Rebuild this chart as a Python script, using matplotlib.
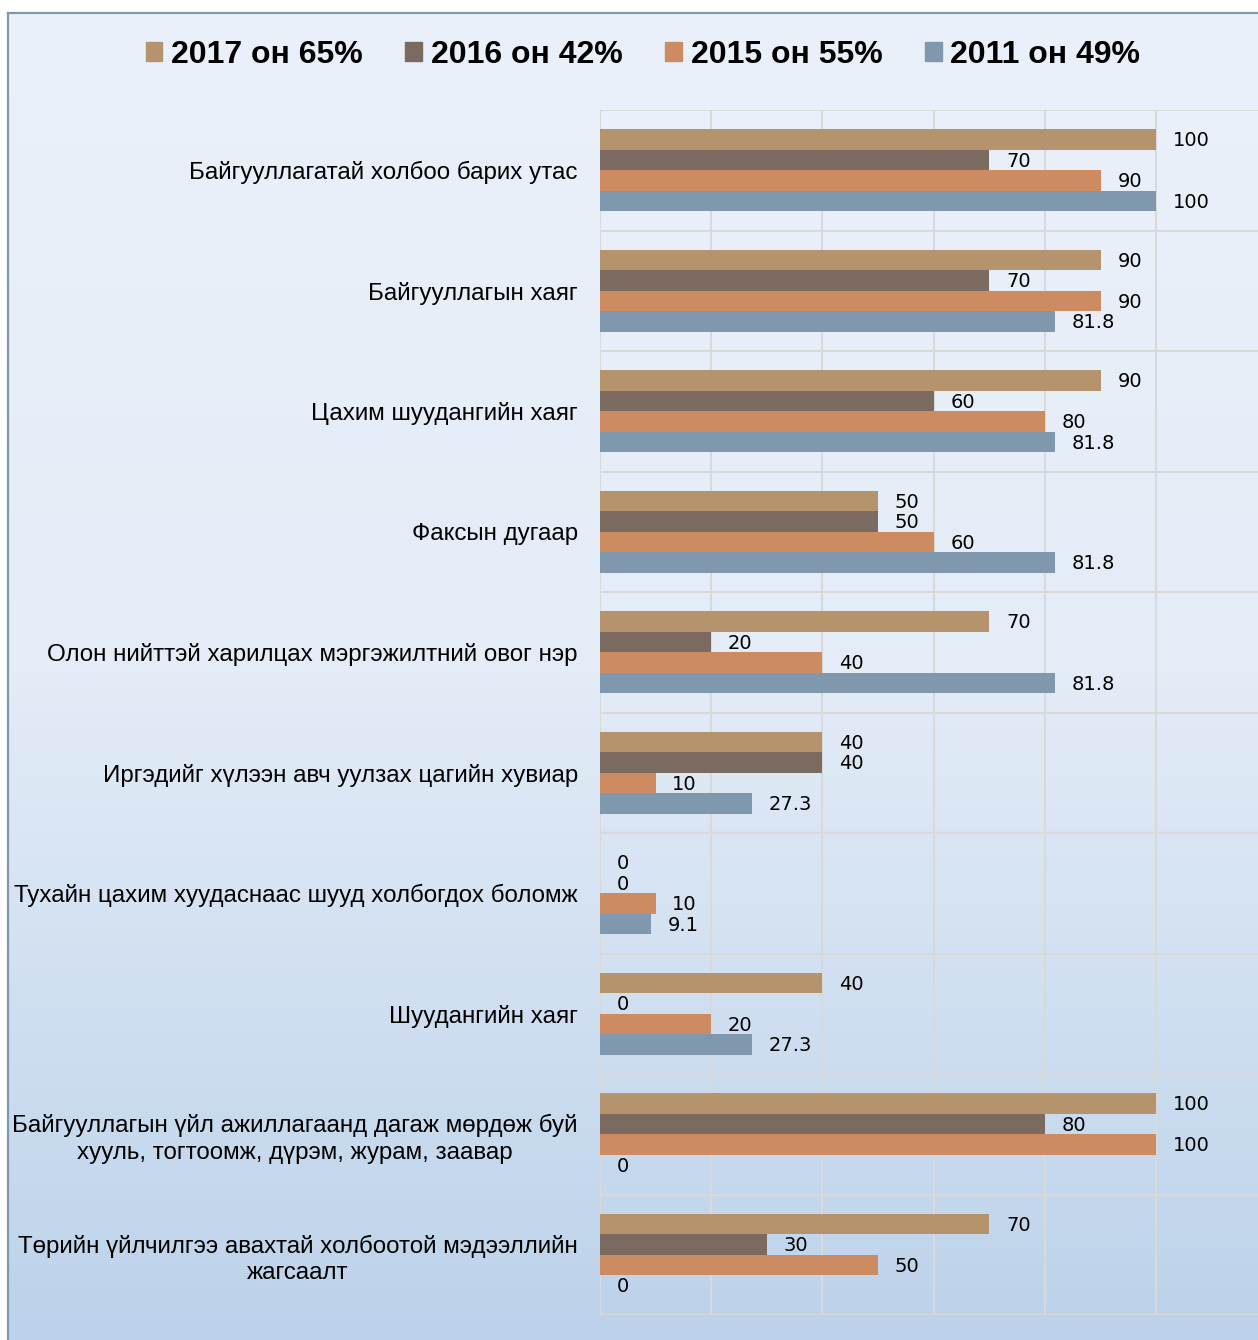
import numpy as np
import matplotlib
matplotlib.use("Agg")
import matplotlib.pyplot as plt
from matplotlib.patches import Patch
from matplotlib.colors import LinearSegmentedColormap
from matplotlib.lines import Line2D

categories = [
    "Байгууллагатай холбоо барих утас",
    "Байгууллагын хаяг",
    "Цахим шуудангийн хаяг",
    "Факсын дугаар",
    "Олон нийттэй харилцах мэргэжилтний овог нэр",
    "Иргэдийг хүлээн авч уулзах цагийн хувиар",
    "Тухайн цахим хуудаснаас шууд холбогдох боломж",
    "Шуудангийн хаяг",
    "Байгууллагын үйл ажиллагаанд дагаж мөрдөж буй\nхууль, тогтоомж, дүрэм, журам, заавар",
    "Төрийн үйлчилгээ авахтай холбоотой мэдээллийн\nжагсаалт",
]
series_names = ["2017 он 65%", "2016 он 42%", "2015 он 55%", "2011 он 49%"]
v2017 = [100, 90, 90, 50, 70, 40, 0, 40, 100, 70]
v2016 = [70, 70, 60, 50, 20, 40, 0, 0, 80, 30]
v2015 = [90, 90, 80, 60, 40, 10, 10, 20, 100, 50]
v2011 = [100, 81.8, 81.8, 81.8, 81.8, 27.3, 9.1, 27.3, 0, 0]
series = [v2017, v2016, v2015, v2011]
colors = ["#b5936c", "#7b6a5f", "#cc8b60", "#8098ae"]

W, H = 1258, 1340
fig = plt.figure(figsize=(W / 100, H / 100), dpi=100)

# background with gradient and border
bg = fig.add_axes([0, 0, 1, 1], zorder=-5)
bg.axis("off")
cmap = LinearSegmentedColormap.from_list("g", ["#ebf1fa", "#e3ecf7", "#bcd2ea"])
grad = np.linspace(0, 1, 256).reshape(-1, 1)
bg.imshow(grad, cmap=cmap, extent=(8, W, H, 13), aspect="auto")
bg.add_line(Line2D([8, 8], [13, H], color="#8096ab", lw=1.6))
bg.add_line(Line2D([8, W], [13, 13], color="#8096ab", lw=1.6))
bg.set_xlim(0, W)
bg.set_ylim(H, 0)

ax = fig.add_axes([600 / W, (H - 1315) / H, (W - 600) / W, (1315 - 110) / H])
ax.set_facecolor("none")
n = len(categories)
offsets = [-0.255, -0.085, 0.085, 0.255]
bh = 0.17
centers = np.arange(n) + 0.5
for vals, off, c, name in zip(series, offsets, colors, series_names):
    ax.barh(centers + off, vals, height=bh, color=c, label=name, zorder=3)
    for y, v in zip(centers + off, vals):
        ax.annotate(f"{v:g}", (v, y), xytext=(12, -1), textcoords="offset points",
                    ha="left", va="center", fontsize=14,
                    family=["Liberation Sans Narrow", "DejaVu Sans"], color="black")

ax.set_xlim(0, 118.3)
ax.set_ylim(n, 0)
ax.set_xticks(np.arange(0, 101, 20))
ax.set_xticklabels([])
ax.set_yticks(centers)
ax.set_yticklabels(categories, fontsize=17.4, family="Liberation Sans",
                   multialignment="center", linespacing=1.25)
ax.set_yticks(np.arange(0, n + 1), minor=True)
ax.tick_params(axis="both", which="both", length=0)
ax.tick_params(axis="y", pad=16)
ax.grid(True, axis="x", which="major", color="#d9d9d9", lw=1.5, zorder=0)
ax.grid(True, axis="y", which="minor", color="#d9d9d9", lw=1.5, zorder=0)
ax.set_axisbelow(True)
for s in ax.spines.values():
    s.set_visible(False)

handles = [Patch(color=c, label=nm) for c, nm in zip(colors, series_names)]
fig.legend(handles=handles, ncol=4, loc="center", bbox_to_anchor=(643 / W, 1 - 55 / H),
           frameon=False, prop={"family": "Liberation Sans", "weight": "bold", "size": 23},
           handlelength=0.52, handleheight=0.52, handletextpad=0.28, columnspacing=1.33)

fig.savefig("out.png", dpi=100)
